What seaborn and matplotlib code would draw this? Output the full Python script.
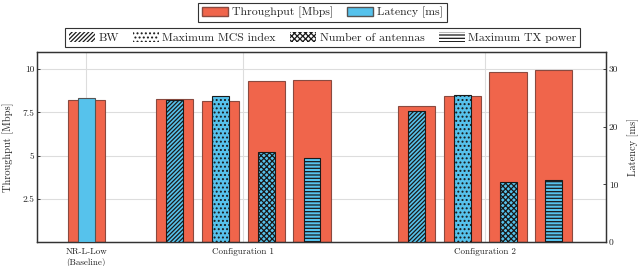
import numpy as np
import matplotlib
matplotlib.use("Agg")
import matplotlib.pyplot as plt
from matplotlib.patches import Patch
import seaborn as sns

# Data
groups = ["NR-L-Low\n(Baseline)", "Configuration 1", "Configuration 2"]
params = ["BW", "Maximum MCS index", "Number of antennas", "Maximum TX power"]
hatches = ["////////", "....", "xxxxxx", "-----"]

baseline_tput = 8.25
baseline_lat = 25.0
conf1_tput = [8.27, 8.17, 9.31, 9.39]
conf1_lat = [24.6, 25.3, 15.6, 14.6]
conf2_tput = [7.89, 8.46, 9.87, 9.98]
conf2_lat = [22.7, 25.5, 10.4, 10.7]

red = "#F0654B"
blue = "#56C2EC"

sns.set_theme(style="whitegrid")
plt.rcParams["font.family"] = ["cmr10", "DejaVu Serif"]
plt.rcParams["hatch.linewidth"] = 0.9

fig = plt.figure(figsize=(6.4, 2.66), dpi=100)
ax = fig.add_axes([0.058, 0.0902, 0.889, 0.7143])
ax2 = ax.twinx()

# group centres and bar offsets (in bar-spacing units)
centers = [0.0, 3.43, 8.71]
offsets = np.array([-1.5, -0.5, 0.5, 1.5])
w_red, w_blue = 0.81, 0.37

ax.bar(centers[0], baseline_tput, width=w_red, color=red, edgecolor="#8a4a40", linewidth=0.8, zorder=2)
ax2.bar(centers[0], baseline_lat, width=w_blue, color=blue, edgecolor="#555555", linewidth=0.8, zorder=3)

for c, tput, lat in [(centers[1], conf1_tput, conf1_lat), (centers[2], conf2_tput, conf2_lat)]:
    xs = c + offsets
    ax.bar(xs, tput, width=w_red, color=red, edgecolor="#8a4a40", linewidth=0.8, zorder=2)
    for x, v, h in zip(xs, lat, hatches):
        ax2.bar(x, v, width=w_blue, color=blue, edgecolor="#1a1a1a", linewidth=0.8, hatch=h, zorder=3)

ax.set_xlim(-1.07, 11.35)
ax.set_ylim(0, 11)
ax2.set_ylim(0, 33)

ax.set_xticks(centers)
ax.set_xticklabels(groups, fontsize=6.5, linespacing=1.3)
ax.set_yticks([2.5, 5, 7.5, 10])
ax.set_yticklabels(["2.5", "5", "7.5", "10"], fontsize=6.8)
ax2.set_yticks([0, 10, 20, 30])
ax2.set_yticklabels(["0", "10", "20", "30"], fontsize=6.8)

ax.set_ylabel("Throughput [Mbps]", fontsize=7.5, labelpad=6)
ax2.set_ylabel("Latency [ms]", fontsize=7.5, labelpad=7)

ax.grid(True, color="#dddddd", linewidth=0.8)
ax.set_axisbelow(True)
ax2.grid(False)
ax.set_facecolor("white")
for a in (ax, ax2):
    for s in a.spines.values():
        s.set_color("#333333")
        s.set_linewidth(0.9)
    a.tick_params(axis="both", length=2, width=0.6, pad=2, colors="#222222", direction="in")
ax.tick_params(axis="x", length=0, pad=4)

leg_kw = dict(frameon=True, fancybox=False, edgecolor="#333333", framealpha=1,
              fontsize=8.5, handlelength=2.2, handleheight=0.9, borderpad=0.35,
              handletextpad=0.3, columnspacing=1.2)

h1 = [Patch(facecolor=red, edgecolor="#8a4a40", label="Throughput [Mbps]"),
      Patch(facecolor=blue, edgecolor="#555555", label="Latency [ms]")]
l1 = fig.legend(handles=h1, loc="center", bbox_to_anchor=(0.504, 0.953), ncol=2, **leg_kw)
l1.get_frame().set_linewidth(0.8)

h2 = [Patch(facecolor="white", edgecolor="#1a1a1a", hatch=h, linewidth=0, label=p)
      for p, h in zip(params, hatches)]
l2 = fig.legend(handles=h2, loc="center", bbox_to_anchor=(0.504, 0.858), ncol=4, **leg_kw)
l2.get_frame().set_linewidth(0.8)

fig.savefig("out.png", dpi=100)
